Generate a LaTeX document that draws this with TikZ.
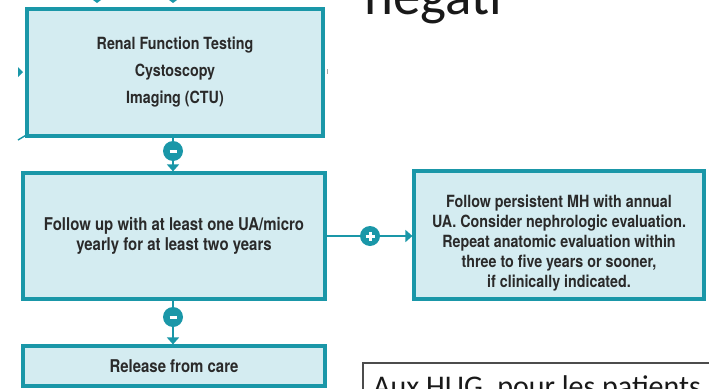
\documentclass[tikz,border=0pt]{standalone}
\usepackage{fontspec}
\setmainfont{TeX Gyre Heros}[FakeStretch=0.85]
\newfontfamily\calibri{Carlito}
\usetikzlibrary{arrows.meta}
\definecolor{teal1}{HTML}{1A97A8}
\definecolor{boxfill}{HTML}{D4ECF1}
\definecolor{txt}{HTML}{2A2A2A}
\begin{document}
\begin{tikzpicture}[x=1pt,y=-1pt,
  flowbox/.style={draw=teal1, line width=3.2pt, fill=boxfill, text=txt, align=center, inner sep=0pt},
  boxtext/.style={text=txt, align=center, inner sep=0pt},
  knot/.style={circle, fill=teal1, minimum size=20pt, inner sep=0pt},
  link/.style={draw=teal1, line width=2.6pt},
  tip/.style={-{Triangle[length=7pt,width=12pt]}}
]
\useasboundingbox (0,0) rectangle (709,388);
\clip (0,0) rectangle (709,388);

% boxes
\node[flowbox, minimum width=296pt, minimum height=127pt,
      font=\fontsize{16.8}{27}\selectfont\bfseries] (box1) at (175,72.5)
  {Renal Function Testing\\Cystoscopy\\Imaging (CTU)};
\node[flowbox, minimum width=302pt, minimum height=126pt,
      font=\fontsize{17.6}{20}\selectfont\bfseries] (box2) at (174,236)
  {Follow up with at least one UA/micro\\yearly for at least two years};
\node[flowbox, minimum width=290pt, minimum height=128pt] (box3) at (559,235) {};
\node[boxtext, font=\fontsize{16.8}{20.2}\selectfont\bfseries] (box3text) at (559,243)
  {Follow persistent MH with annual\\UA. Consider nephrologic evaluation.\\Repeat anatomic evaluation within\\three to five years or sooner,\\if clinically indicated.};
\node[flowbox, minimum width=302pt, minimum height=40pt,
      font=\fontsize{17.6}{20}\selectfont\bfseries] (box4) at (174,366)
  {Release from care};

% decision knots
\node[knot] (c1) at (173,151) {\color{white}\rule{7pt}{3pt}};
\node[knot] (c2) at (173,317) {\color{white}\rule{7pt}{3pt}};
\node[knot] (c3) at (370,236) {};
\draw[white, line width=3pt] ([xshift=-4.5pt]c3.center) -- ([xshift=4.5pt]c3.center);
\draw[white, line width=3pt] ([yshift=-4.5pt]c3.center) -- ([yshift=4.5pt]c3.center);

% connectors
\draw[link] (c1 |- box1.south) -- (c1);
\draw[link, tip] (c1) -- (c1 |- box2.north);
\draw[link] (c2 |- box2.south) -- (c2);
\draw[link, tip] (c2) -- (c2 |- box4.north);
\draw[link] (box2.east |- c3) -- (c3);
\draw[link, tip] (c3) -- (c3 -| box3.west);

% fragments of outside connectors
\fill[teal1] (93,0) -- (101,0) -- (97,3) -- cycle;
\fill[teal1] (169,0) -- (177,0) -- (173,3) -- cycle;
\fill[teal1] (18,67) -- (23,72) -- (18,77) -- cycle;
\draw[teal1, line width=1.4pt] (18,140) -- (28,134);
\draw[black!35, line width=0.8pt] (327,69) -- (327,74);

% slide texts
\node[anchor=base west, inner sep=0pt, font=\fontsize{55}{60}\calibri, text=black!90] (neg) at (364,14) {negati};
\draw[black!70, line width=1.2pt] (363,363) rectangle (730,400);
\node[anchor=base west, inner sep=0pt, font=\fontsize{30}{34}\calibri, text=black!90] (hug) at (373,396) {Aux HUG, pour les patients};
\end{tikzpicture}
\end{document}
